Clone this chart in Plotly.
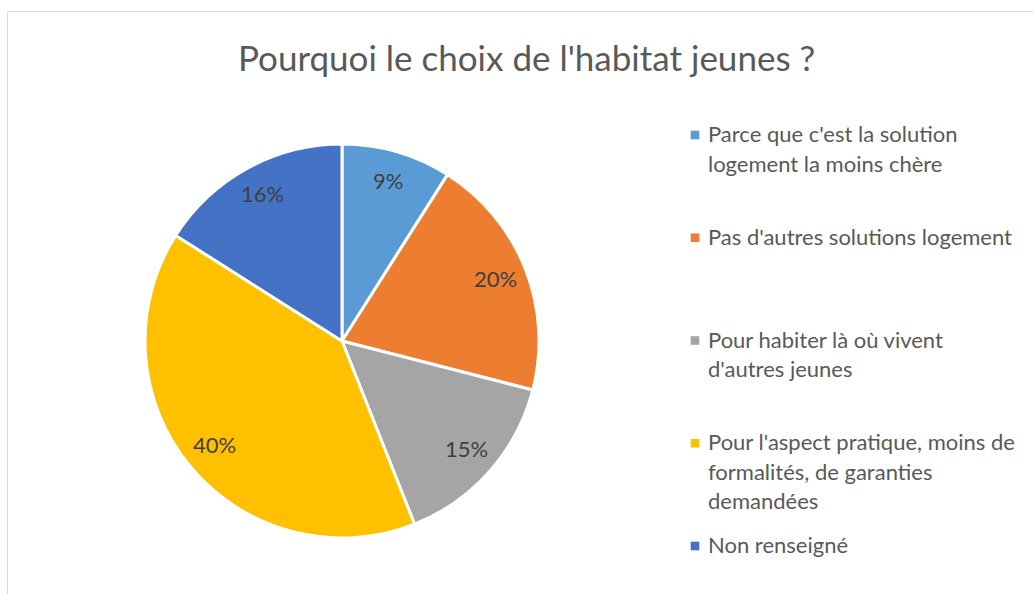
import numpy as np
import plotly.graph_objects as go

# ---- data ----
categories = [
    "Parce que c'est la solution<br>logement la moins chère",
    "Pas d'autres solutions logement",
    "Pour habiter là où vivent<br>d'autres jeunes",
    "Pour l'aspect pratique, moins de<br>formalités, de garanties<br>demandées",
    "Non renseigné",
]
values = [9, 20, 15, 40, 16]
colors = ["#5B9BD5", "#ED7D31", "#A5A5A5", "#FFC000", "#4472C4"]
title_text = "Pourquoi le choix de l'habitat jeunes ?"

# ---- layout constants (pixels) ----
W, H = 1033, 594
CX, CY, R = 342.0, 341.0, 197.0
FONT = "Lato, Carlito, Calibri, sans-serif"

def px(x):
    return x / W

def py(y):
    return 1 - y / H

fig = go.Figure()
fig.add_trace(go.Pie(
    labels=[c.replace("<br>", " ") for c in categories],
    values=values,
    sort=False,
    direction="clockwise",
    rotation=0,
    marker=dict(colors=colors, line=dict(color="white", width=3)),
    textinfo="none",
    hoverinfo="label+percent",
    showlegend=False,
    domain=dict(x=[px(CX - R), px(CX + R)], y=[py(CY + R), py(CY - R)]),
))

annotations = []
# percentage labels, placed along the mid angle of each slice
vals = np.array(values, dtype=float)
frac = vals / vals.sum()
cum = np.cumsum(frac) - frac / 2
for f, c in zip(frac, cum):
    ang = 2 * np.pi * c
    rr = 0.84 * R
    x = CX + rr * np.sin(ang)
    y = CY - rr * np.cos(ang) - 2
    annotations.append(dict(
        x=px(x), y=py(y), xref="paper", yref="paper",
        text=f"{round(f * 100)}%", showarrow=False,
        xanchor="center", yanchor="middle",
        font=dict(family=FONT, size=22, color="#404040"),
    ))

# title
annotations.append(dict(
    x=px(526), y=py(57), xref="paper", yref="paper", text=title_text,
    showarrow=False, xanchor="center", yanchor="middle",
    font=dict(family=FONT, size=35, color="#595959"),
))

# legend (manual, Excel style)
shapes = []
LEG_X_MARK, LEG_X_TEXT = 695.0, 706.0
LEG_Y0, LEG_STEP, LINE_PITCH = 133.5, 102.75, 29.5
for i, (cat, col) in enumerate(zip(categories, colors)):
    y0 = LEG_Y0 + i * LEG_STEP
    shapes.append(dict(
        type="rect", xref="paper", yref="paper",
        x0=px(LEG_X_MARK - 4.3), x1=px(LEG_X_MARK + 4.3),
        y0=py(y0 + 5.8), y1=py(y0 - 2.8),
        fillcolor=col, line=dict(width=0),
    ))
    for j, line in enumerate(cat.split("<br>")):
        annotations.append(dict(
            x=px(LEG_X_TEXT), y=py(y0 + j * LINE_PITCH), xref="paper", yref="paper",
            text=line, showarrow=False, xanchor="left", yanchor="middle",
            font=dict(family=FONT, size=22, color="#595959"),
        ))

# chart border
shapes.append(dict(
    type="rect", xref="paper", yref="paper",
    x0=px(7.5), x1=px(W + 20), y0=py(H + 20), y1=py(11.5),
    line=dict(color="#D9D9D9", width=1), fillcolor="rgba(0,0,0,0)",
))

fig.update_layout(
    width=W, height=H,
    margin=dict(l=0, r=0, t=0, b=0),
    paper_bgcolor="white", plot_bgcolor="white",
    annotations=annotations, shapes=shapes,
    showlegend=False,
)

fig.write_html("out.html")
